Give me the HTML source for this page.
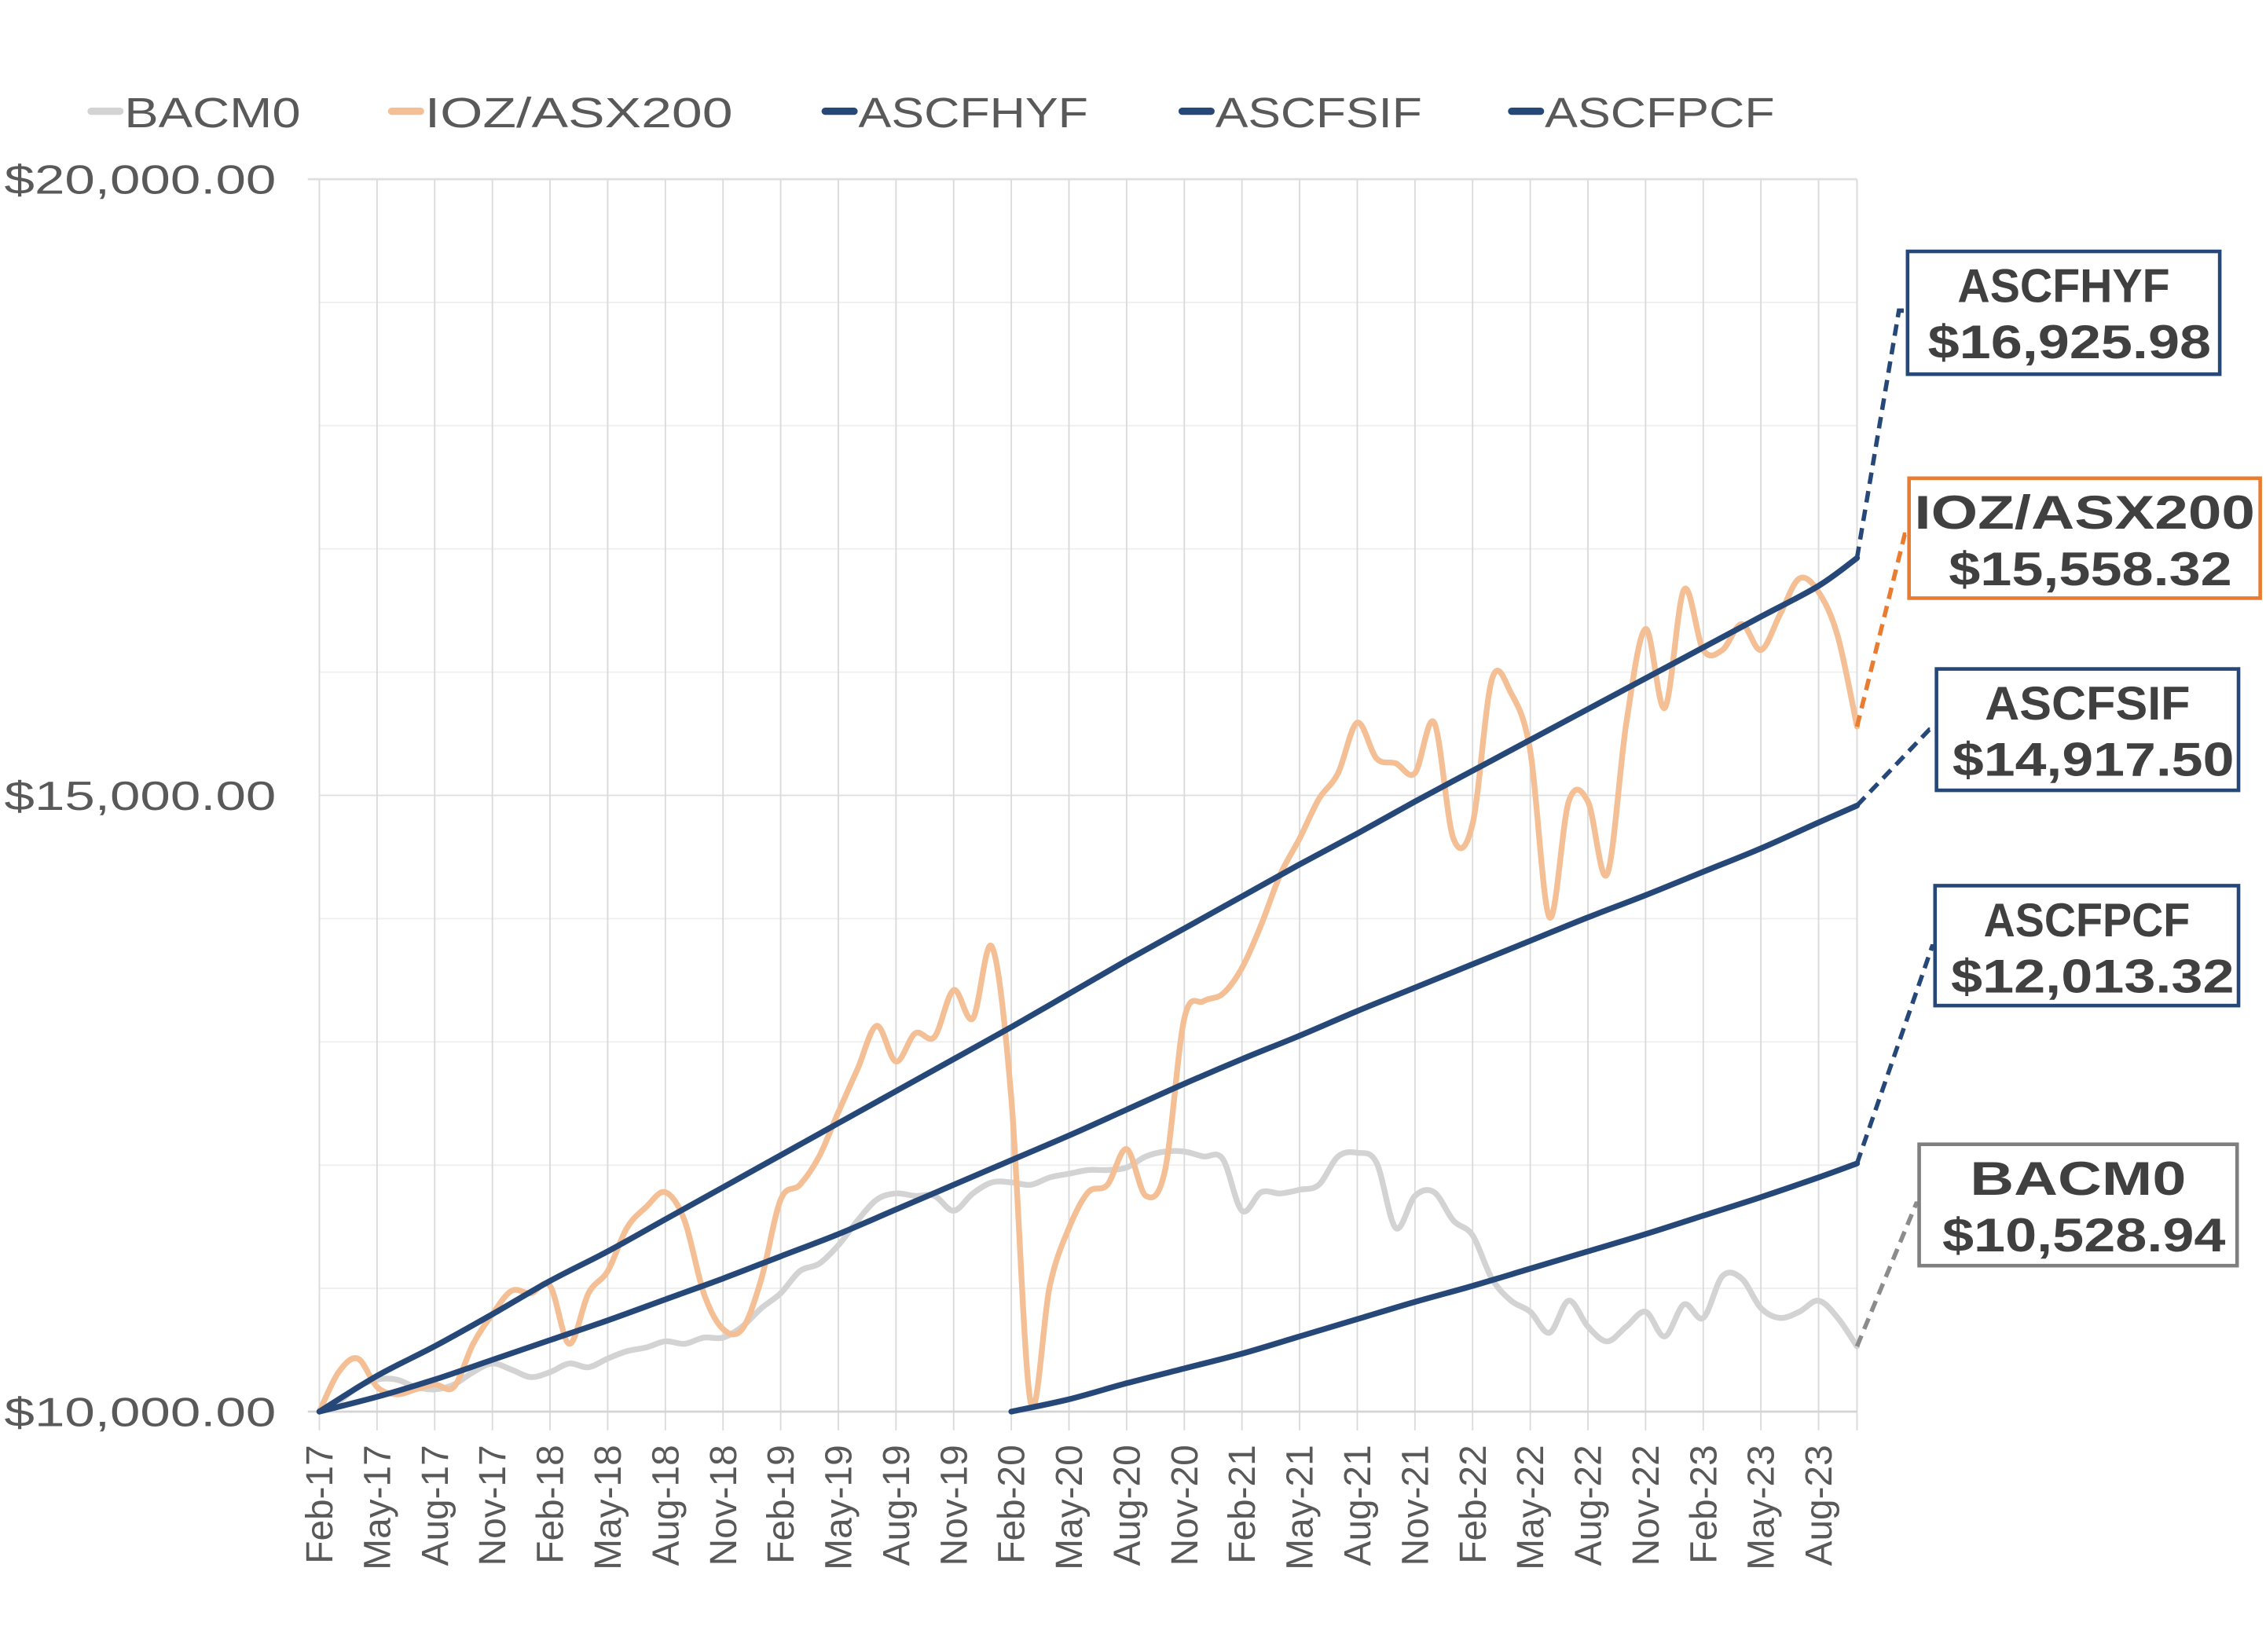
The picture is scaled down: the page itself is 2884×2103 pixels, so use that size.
<!DOCTYPE html>
<html><head><meta charset="utf-8">
<style>
html,body{margin:0;padding:0;background:#fff;}
svg{display:block;}
text{font-family:"Liberation Sans",sans-serif;}
</style></head>
<body>
<svg id="chart" width="2884" height="2103" viewBox="0 0 1568 1143.4" xmlns="http://www.w3.org/2000/svg">
<g id="grid"></g>
<g id="yaxis"></g>
<g id="xaxis"></g>
<g id="series"></g>
<g id="legend"></g>
<g id="callouts"></g>
</svg>
<script>
const monthLabels = ["Feb-17","May-17","Aug-17","Nov-17","Feb-18","May-18","Aug-18","Nov-18","Feb-19","May-19","Aug-19","Nov-19","Feb-20","May-20","Aug-20","Nov-20","Feb-21","May-21","Aug-21","Nov-21","Feb-22","May-22","Aug-22","Nov-22","Feb-23","May-23","Aug-23"];
const yTicks = [10000,15000,20000];
const yTickLabels = ["$10,000.00","$15,000.00","$20,000.00"];
const iozValues = [10000,10320,10430,10200,10140,10180,10220,10200,10550,10790,10980,10960,11020,10550,10960,11140,11490,11660,11780,11550,10960,10670,10670,11080,11720,11840,12070,12430,12780,13130,12840,13070,13040,13420,13190,13770,12540,10080,11020,11490,11780,11840,12130,11750,11960,13190,13330,13390,13600,13950,14360,14650,14970,15180,15590,15300,15260,15180,15590,14650,14770,15940,15830,15360,14010,14950,14950,14360,15590,16350,15710,16670,16180,16180,16390,16180,16470,16760,16650,16290,15558.32];
const bacmValues = [10000,10080,10200,10260,10260,10200,10180,10220,10320,10390,10340,10280,10320,10390,10360,10430,10490,10520,10570,10550,10600,10600,10690,10840,10960,11140,11200,11350,11550,11720,11770,11750,11750,11630,11770,11860,11860,11840,11900,11930,11960,11960,11980,12070,12110,12110,12070,12050,11630,11780,11770,11800,11840,12070,12100,12020,11490,11750,11780,11550,11430,11080,10900,10810,10640,10900,10690,10570,10690,10810,10610,10870,10760,11100,11080,10840,10760,10810,10900,10760,10528.94];
const quarterIdx = [0,3,6,9,12,15,18,21,24,27,30,33,36,39,42,45,48,51,54,57,60,63,66,69,72,75,78,80];
const hyfValues = [10000,10290,10530,10790,11060,11300,11560,11820,12080,12340,12600,12860,13120,13390,13660,13920,14180,14440,14690,14950,15200,15450,15700,15950,16200,16450,16700,16925.98];
const sifValues = [10000,10120,10260,10420,10580,10740,10910,11080,11260,11440,11640,11840,12040,12240,12450,12660,12860,13050,13250,13440,13630,13820,14010,14190,14380,14570,14780,14917.50];
const pcfIdx = [36,39,42,45,48,51,54,57,60,63,66,69,72,75,78,80];
const pcfValues = [10000,10100,10230,10350,10470,10610,10750,10890,11020,11160,11300,11440,11590,11740,11900,12013.32];

const NS="http://www.w3.org/2000/svg";
const X0=221, DX=13.3, Y0=977, YSC=426.5/5000;
const xs=i=>X0+i*DX;
const ys=v=>Y0-(v-10000)*YSC;
function mk(tag,attrs,parent){const e=document.createElementNS(NS,tag);for(const k in attrs)e.setAttribute(k,attrs[k]);parent.appendChild(e);return e;}
const grid=document.getElementById('grid'),yax=document.getElementById('yaxis'),xax=document.getElementById('xaxis'),ser=document.getElementById('series'),leg=document.getElementById('legend'),cal=document.getElementById('callouts');
const XR=xs(80);
// horizontal grid every 1000
for(let v=11000;v<=20000;v+=1000){const l=mk('line',{x1:X0,x2:XR,y1:ys(v),y2:ys(v),stroke:v%5000===0?'#dedede':'#efefef','stroke-width':1},grid);

}
// vertical grid
for(let k=0;k<monthLabels.length;k++){const x=xs(k*3);const l=mk('line',{x1:x,x2:x,y1:ys(20000),y2:990,stroke:'#dadada','stroke-width':1},grid);


const t=mk('text',{x:0,y:0,transform:`translate(${x+9},1000) rotate(-90)`,'text-anchor':'end','font-size':26,fill:'#595959'},xax);t.textContent=monthLabels[k];

}
{const l=mk('line',{x1:XR,x2:XR,y1:ys(20000),y2:990,stroke:'#dadada','stroke-width':1},grid);

}
const ax=mk('line',{x1:X0-8,x2:XR,y1:Y0,y2:Y0,stroke:'#d4d4d4','stroke-width':1.5},xax);


const topl=mk('line',{x1:X0-8,x2:XR,y1:ys(20000),y2:ys(20000),stroke:'#dedede','stroke-width':1.5},grid);


yTicks.forEach((v,i)=>{const t=mk('text',{x:191,y:ys(v)+10,'text-anchor':'end','font-size':28,fill:'#595959',textLength:188,lengthAdjust:'spacingAndGlyphs'},yax);t.textContent=yTickLabels[i];

});

function smoothPath(pts){let d=`M${pts[0][0]},${pts[0][1]}`;for(let i=0;i<pts.length-1;i++){const p0=pts[i-1]||pts[i],p1=pts[i],p2=pts[i+1],p3=pts[i+2]||p2;const t=1/6;
d+=` C${p1[0]+(p2[0]-p0[0])*t},${p1[1]+(p2[1]-p0[1])*t} ${p2[0]-(p3[0]-p1[0])*t},${p2[1]-(p3[1]-p1[1])*t} ${p2[0]},${p2[1]}`;}return d;}
function drawSeries(idx,vals,color,name,w){const pts=idx.map((i,k)=>[xs(i),ys(vals[k])]);const p=mk('path',{d:smoothPath(pts),fill:'none',stroke:color,'stroke-width':w,'stroke-linejoin':'round','stroke-linecap':'round'},ser);

}
const allIdx=iozValues.map((_,i)=>i);
drawSeries(allIdx,bacmValues,'#d3d3d3','bacm0-line',4);
drawSeries(allIdx,iozValues,'#f4bf95','ioz-asx200-line',4);
drawSeries(quarterIdx,hyfValues,'#264878','ascfhyf-line',4);
drawSeries(quarterIdx,sifValues,'#264878','ascfsif-line',4);
drawSeries(pcfIdx,pcfValues,'#264878','ascfpcf-line',4);

// legend
const legendItems=[["BACM0","#d3d3d3",60,122],["IOZ/ASX200","#f4bf95",268,213],["ASCFHYF","#264878",568,159],["ASCFSIF","#264878",815,143],["ASCFPCF","#264878",1043,159]];
legendItems.forEach(([n,c,x,w])=>{const g=mk('g',{},leg);


mk('line',{x1:x+3,x2:x+23,y1:77,y2:77,stroke:c,'stroke-width':5,'stroke-linecap':'round'},g);
const t=mk('text',{x:x+26,y:88,'font-size':29,fill:'#595959',textLength:w,lengthAdjust:'spacingAndGlyphs'},g);t.textContent=n;});

// callouts
const callouts=[
 ["ASCFHYF","$16,925.98",hyfValues[hyfValues.length-1],'#264878',1320,174,216,85,[1314,215],'callout-ascfhyf'],
 ["IOZ/ASX200","$15,558.32",iozValues[iozValues.length-1],'#e97c30',1321,331,243,83,[1318,370],'callout-ioz'],
 ["ASCFSIF","$14,917.50",sifValues[sifValues.length-1],'#264878',1340,463,209,84,[1335,505],'callout-ascfsif'],
 ["ASCFPCF","$12,013.32",pcfValues[pcfValues.length-1],'#264878',1339,613,210,83,[1337,655],'callout-ascfpcf'],
 ["BACM0","$10,528.94",bacmValues[bacmValues.length-1],'#7f7f7f',1328,792,220,84,[1326,833],'callout-bacm0']];
const lineColors={'callout-bacm0':'#8c8c8c'};
callouts.forEach(([n,v,val,c,x,y,w,h,lp,name])=>{const g=mk('g',{},cal);


mk('polyline',{points:`${XR},${ys(val)} ${lp[0]},${lp[1]} ${x},${lp[1]}`,fill:'none',stroke:lineColors[name]||c,'stroke-width':3,'stroke-dasharray':'8,5'},g);
mk('rect',{x:x,y:y,width:w,height:h,fill:'#fff',stroke:c,'stroke-width':2.5},g);
const t1=mk('text',{x:x+w/2,y:y+35,'text-anchor':'middle','font-size':33,'font-weight':'bold',fill:'#404040',textLength:w-Math.max(20,w*0.2)*(n.length<8?1.6:0.15),lengthAdjust:'spacingAndGlyphs'},g);t1.textContent=n;
const t2=mk('text',{x:x+w/2+4,y:y+74,'text-anchor':'middle','font-size':33,'font-weight':'bold',fill:'#404040',textLength:Math.min(w-14,196),lengthAdjust:'spacingAndGlyphs'},g);t2.textContent=v;});
</script>
</body></html>
